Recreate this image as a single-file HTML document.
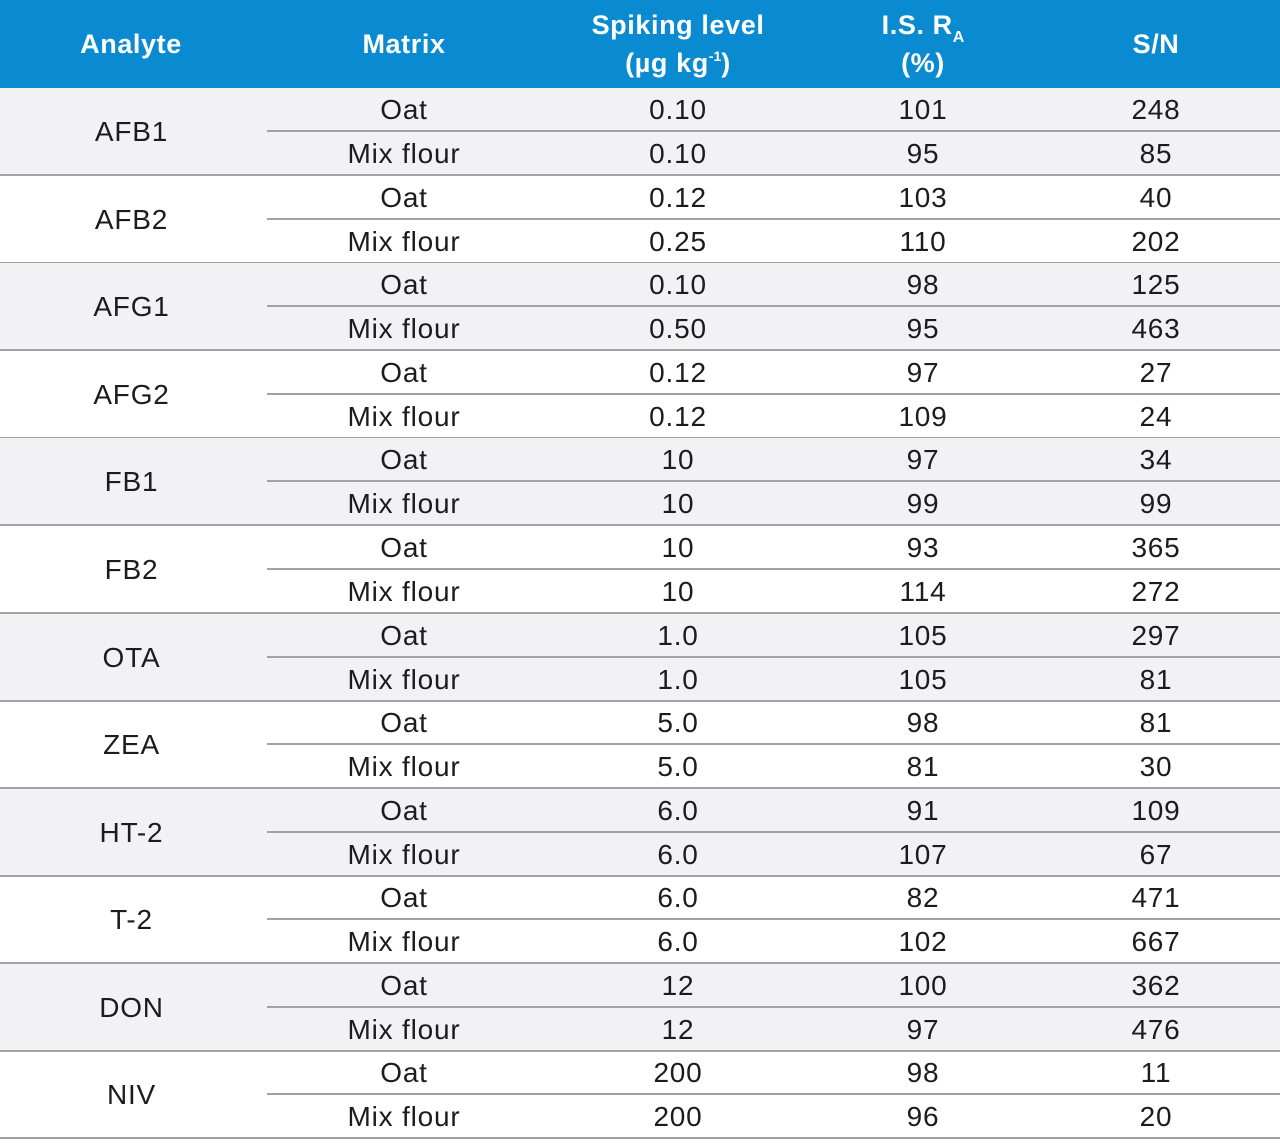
<!DOCTYPE html>
<html><head><meta charset="utf-8"><style>
body{margin:0;width:1280px;height:1146px;background:#fff;font-family:"Liberation Sans",sans-serif;position:relative;overflow:hidden;color:#1c1c1c}
.hd{position:absolute;left:0;top:0;width:1280px;height:88px;background:#0a8ad0;color:#fff;font-weight:bold;font-size:27px;letter-spacing:0.6px}
.hd div{position:absolute;width:260px;text-align:center;line-height:38px;height:38px}
.sp{position:relative;font-size:14px;top:-11px;letter-spacing:0}
.sb{position:relative;font-size:16px;top:8px;letter-spacing:0}
.g{position:absolute;left:0;width:1280px;height:86px;border-bottom:2px solid #a2a2a2}
.g.s{background:#f2f2f4}
.a{position:absolute;left:0;top:0;width:263px;height:86px;line-height:88px;text-align:center;font-size:28px;letter-spacing:0.8px}
.r{position:absolute;left:267px;width:1013px;height:42px;font-size:28px;line-height:44px;letter-spacing:0.8px}
.r1{top:0;border-bottom:2px solid #a2a2a2}
.r2{top:44px}
.r span{position:absolute;width:200px;text-align:center}
.c1{left:37px}.c2{left:311px}.c3{left:556px}.c4{left:789px}
</style></head><body>
<div class="hd">
<div style="left:1px;top:25px">Analyte</div>
<div style="left:274px;top:25px">Matrix</div>
<div style="left:548px;top:6px">Spiking level</div>
<div style="left:548px;top:44px">(µg kg<span class="sp">-1</span>)</div>
<div style="left:793px;top:6px">I.S. R<span class="sb">A</span></div>
<div style="left:793px;top:44px">(%)</div>
<div style="left:1026px;top:25px">S/N</div>
</div>

<div class="g s" style="top:88px"><div class="a">AFB1</div><div class="r r1"><span class="c1">Oat</span><span class="c2">0.10</span><span class="c3">101</span><span class="c4">248</span></div><div class="r r2"><span class="c1">Mix flour</span><span class="c2">0.10</span><span class="c3">95</span><span class="c4">85</span></div></div>
<div class="g" style="top:176px"><div class="a">AFB2</div><div class="r r1"><span class="c1">Oat</span><span class="c2">0.12</span><span class="c3">103</span><span class="c4">40</span></div><div class="r r2"><span class="c1">Mix flour</span><span class="c2">0.25</span><span class="c3">110</span><span class="c4">202</span></div></div>
<div class="g s" style="top:263px"><div class="a">AFG1</div><div class="r r1"><span class="c1">Oat</span><span class="c2">0.10</span><span class="c3">98</span><span class="c4">125</span></div><div class="r r2"><span class="c1">Mix flour</span><span class="c2">0.50</span><span class="c3">95</span><span class="c4">463</span></div></div>
<div class="g" style="top:351px"><div class="a">AFG2</div><div class="r r1"><span class="c1">Oat</span><span class="c2">0.12</span><span class="c3">97</span><span class="c4">27</span></div><div class="r r2"><span class="c1">Mix flour</span><span class="c2">0.12</span><span class="c3">109</span><span class="c4">24</span></div></div>
<div class="g s" style="top:438px"><div class="a">FB1</div><div class="r r1"><span class="c1">Oat</span><span class="c2">10</span><span class="c3">97</span><span class="c4">34</span></div><div class="r r2"><span class="c1">Mix flour</span><span class="c2">10</span><span class="c3">99</span><span class="c4">99</span></div></div>
<div class="g" style="top:526px"><div class="a">FB2</div><div class="r r1"><span class="c1">Oat</span><span class="c2">10</span><span class="c3">93</span><span class="c4">365</span></div><div class="r r2"><span class="c1">Mix flour</span><span class="c2">10</span><span class="c3">114</span><span class="c4">272</span></div></div>
<div class="g s" style="top:614px"><div class="a">OTA</div><div class="r r1"><span class="c1">Oat</span><span class="c2">1.0</span><span class="c3">105</span><span class="c4">297</span></div><div class="r r2"><span class="c1">Mix flour</span><span class="c2">1.0</span><span class="c3">105</span><span class="c4">81</span></div></div>
<div class="g" style="top:701px"><div class="a">ZEA</div><div class="r r1"><span class="c1">Oat</span><span class="c2">5.0</span><span class="c3">98</span><span class="c4">81</span></div><div class="r r2"><span class="c1">Mix flour</span><span class="c2">5.0</span><span class="c3">81</span><span class="c4">30</span></div></div>
<div class="g s" style="top:789px"><div class="a">HT-2</div><div class="r r1"><span class="c1">Oat</span><span class="c2">6.0</span><span class="c3">91</span><span class="c4">109</span></div><div class="r r2"><span class="c1">Mix flour</span><span class="c2">6.0</span><span class="c3">107</span><span class="c4">67</span></div></div>
<div class="g" style="top:876px"><div class="a">T-2</div><div class="r r1"><span class="c1">Oat</span><span class="c2">6.0</span><span class="c3">82</span><span class="c4">471</span></div><div class="r r2"><span class="c1">Mix flour</span><span class="c2">6.0</span><span class="c3">102</span><span class="c4">667</span></div></div>
<div class="g s" style="top:964px"><div class="a">DON</div><div class="r r1"><span class="c1">Oat</span><span class="c2">12</span><span class="c3">100</span><span class="c4">362</span></div><div class="r r2"><span class="c1">Mix flour</span><span class="c2">12</span><span class="c3">97</span><span class="c4">476</span></div></div>
<div class="g" style="top:1051px"><div class="a">NIV</div><div class="r r1"><span class="c1">Oat</span><span class="c2">200</span><span class="c3">98</span><span class="c4">11</span></div><div class="r r2"><span class="c1">Mix flour</span><span class="c2">200</span><span class="c3">96</span><span class="c4">20</span></div></div>
</body></html>
